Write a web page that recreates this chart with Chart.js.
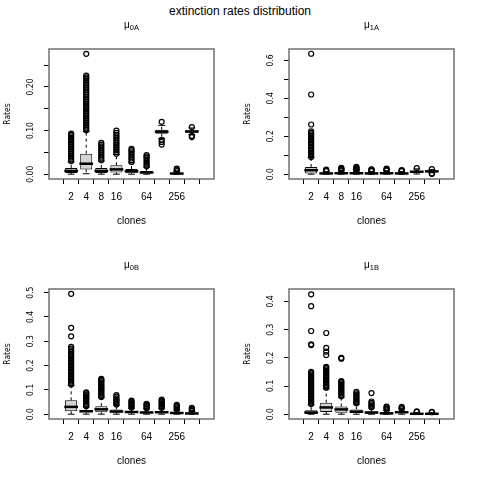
<!DOCTYPE html>
<html>
<head>
<meta charset="utf-8">
<script src="https://cdn.jsdelivr.net/npm/chart.js@4.4.1/dist/chart.umd.min.js"></script>
<style>
  body { margin: 0; background: #fff; }
  #page { position: relative; width: 480px; height: 480px; font-family: "Liberation Sans", Arial, sans-serif; }
  canvas { position: absolute; }
  .main { position: absolute; left: 0; top: 4px; width: 480px; text-align: center; font-size: 12px; line-height: 14px; }
  .ptitle { position: absolute; width: 165px; text-align: center; font-size: 10px; line-height: 12px; }
  .ptitle span { font-size: 7.5px; position: relative; top: 2px; }
</style>
</head>
<body>
<div id="page">
  <div class="main">extinction rates distribution</div>
  <canvas id="c0A" width="240" height="240" style="left:0;top:0"></canvas>
  <canvas id="c1A" width="240" height="240" style="left:240px;top:0"></canvas>
  <canvas id="c0B" width="240" height="240" style="left:0;top:240px"></canvas>
  <canvas id="c1B" width="240" height="240" style="left:240px;top:240px"></canvas>
  <div class="ptitle" style="left:49px;top:19px">μ<span>0A</span></div>
  <div class="ptitle" style="left:289px;top:19px">μ<span>1A</span></div>
  <div class="ptitle" style="left:49px;top:259px">μ<span>0B</span></div>
  <div class="ptitle" style="left:289px;top:259px">μ<span>1B</span></div>
</div>
<script>
// categories
const clones = ['2', '4', '8', '16', '32', '64', '128', '256', '512']
// R leaves out the labels that would overlap
const shownClones = ['2', '4', '8', '16', '64', '256']

// mu 0A
const mu0A_lo  = [0, 0.001, 0, 0, 0, 0, 0.082, 0, 0.091]
const mu0A_q1  = [0.003, 0.011, 0.003, 0.004, 0.002, 0.0015, 0.093, 0.0005, 0.095]
const mu0A_med = [0.0075, 0.024, 0.0075, 0.011, 0.0068, 0.004, 0.0975, 0.0015, 0.098]
const mu0A_q3  = [0.0144, 0.047, 0.0144, 0.0205, 0.012, 0.0075, 0.102, 0.003, 0.100]
const mu0A_hi  = [0.028, 0.098, 0.030, 0.045, 0.026, 0.016, 0.112, 0.0065, 0.106]
const mu0A_out = [
  [0.030,0.034,0.038,0.042,0.046,0.050,0.054,0.058,0.062,0.066,0.070,0.074,0.078,0.081,0.084,0.087,0.090,0.093],
  [0.101,0.105,0.109,0.113,0.117,0.121,0.125,0.129,0.133,0.137,0.141,0.145,0.149,0.153,0.157,0.161,0.165,0.169,0.173,0.177,0.181,0.185,0.189,0.193,0.197,0.201,0.205,0.209,0.214,0.219,0.222,0.226,0.276],
  [0.032,0.036,0.040,0.044,0.048,0.052,0.056,0.060,0.064,0.068,0.072],
  [0.047,0.051,0.055,0.059,0.063,0.067,0.071,0.075,0.079,0.083,0.087,0.091,0.095,0.100],
  [0.028,0.032,0.036,0.040,0.044,0.048,0.052,0.055,0.058],
  [0.018,0.022,0.026,0.030,0.034,0.038,0.041,0.044],
  [0.120,0.079,0.074,0.068],
  [0.007,0.010,0.013],
  [0.108,0.088,0.085]
]
const mu0A_yTicks  = [0, 0.05, 0.10, 0.15, 0.20, 0.25]
const mu0A_yLabels = ['0.00', '', '0.10', '', '0.20', '']

// mu 1A
const mu1A_lo  = [0, 0, 0, 0, 0, 0, 0, 0.001, 0.007]
const mu1A_q1  = [0.004, 0.002, 0.002, 0.002, 0.002, 0.002, 0.002, 0.009, 0.010]
const mu1A_med = [0.021, 0.004, 0.005, 0.005, 0.004, 0.005, 0.004, 0.013, 0.015]
const mu1A_q3  = [0.038, 0.007, 0.008, 0.008, 0.007, 0.008, 0.007, 0.017, 0.019]
const mu1A_hi  = [0.088, 0.014, 0.017, 0.017, 0.014, 0.017, 0.014, 0.028, 0.024]
const mu1A_out = [
  [0.090,0.098,0.106,0.114,0.122,0.130,0.138,0.146,0.154,0.162,0.170,0.178,0.186,0.194,0.202,0.210,0.218,0.226,0.262,0.420,0.635],
  [0.016,0.020,0.024],
  [0.019,0.023,0.027,0.031,0.034],
  [0.019,0.023,0.027,0.031,0.035,0.039],
  [0.016,0.020,0.024,0.026],
  [0.019,0.023,0.027,0.029],
  [0.016,0.019,0.021],
  [0.032],
  [0.027,0.004,0.002]
]
const mu1A_yTicks  = [0, 0.1, 0.2, 0.3, 0.4, 0.5, 0.6]
const mu1A_yLabels = ['0.0', '', '0.2', '', '0.4', '', '0.6']

// mu 0B
const mu0B_lo  = [0, 0, 0, 0, 0, 0, 0, 0, 0]
const mu0B_q1  = [0.012, 0.008, 0.008, 0.007, 0.006, 0.004, 0.005, 0.003, 0.001]
const mu0B_med = [0.030, 0.012, 0.020, 0.011, 0.009, 0.007, 0.008, 0.005, 0.003]
const mu0B_q3  = [0.057, 0.0175, 0.033, 0.019, 0.013, 0.011, 0.012, 0.008, 0.005]
const mu0B_hi  = [0.118, 0.030, 0.068, 0.037, 0.024, 0.021, 0.023, 0.016, 0.011]
const mu0B_out = [
  [0.122,0.128,0.134,0.140,0.146,0.152,0.158,0.164,0.170,0.176,0.182,0.188,0.194,0.200,0.206,0.212,0.218,0.224,0.230,0.236,0.242,0.248,0.256,0.262,0.270,0.277,0.320,0.355,0.495],
  [0.033,0.038,0.043,0.048,0.053,0.058,0.063,0.068,0.073,0.078,0.082,0.086,0.090],
  [0.071,0.076,0.081,0.086,0.091,0.096,0.101,0.106,0.111,0.116,0.121,0.126,0.131,0.136,0.141,0.145],
  [0.040,0.045,0.050,0.055,0.060,0.065,0.072,0.078],
  [0.027,0.032,0.037,0.042,0.047,0.052,0.056],
  [0.024,0.029,0.034,0.039,0.043],
  [0.026,0.031,0.036,0.041,0.046,0.051,0.056,0.060],
  [0.019,0.024,0.029,0.034,0.038],
  [0.014,0.018,0.022,0.026]
]
const mu0B_yTicks  = [0, 0.1, 0.2, 0.3, 0.4, 0.5]
const mu0B_yLabels = ['0.0', '0.1', '0.2', '0.3', '0.4', '0.5']

// mu 1B
const mu1B_lo  = [0, 0, 0, 0, 0, 0, 0, 0, 0]
const mu1B_q1  = [0.001, 0.008, 0.005, 0.004, 0.002, 0.001, 0.004, 0.0005, 0.0005]
const mu1B_med = [0.006, 0.024, 0.017, 0.009, 0.006, 0.003, 0.007, 0.0015, 0.0015]
const mu1B_q3  = [0.014, 0.041, 0.027, 0.017, 0.010, 0.006, 0.011, 0.003, 0.003]
const mu1B_hi  = [0.033, 0.090, 0.060, 0.036, 0.022, 0.013, 0.021, 0.006, 0.006]
const mu1B_out = [
  [0.036,0.041,0.046,0.051,0.056,0.061,0.066,0.071,0.076,0.081,0.086,0.091,0.096,0.101,0.106,0.111,0.116,0.121,0.126,0.131,0.136,0.141,0.146,0.150,0.245,0.248,0.295,0.383,0.425],
  [0.094,0.099,0.104,0.109,0.114,0.119,0.124,0.129,0.134,0.139,0.144,0.149,0.154,0.159,0.164,0.168,0.210,0.222,0.235,0.288],
  [0.064,0.069,0.074,0.079,0.084,0.089,0.094,0.099,0.104,0.109,0.114,0.117,0.197,0.200],
  [0.039,0.044,0.049,0.054,0.059,0.064,0.069,0.074,0.079],
  [0.025,0.030,0.035,0.040,0.045,0.075],
  [0.016,0.020,0.024,0.027],
  [0.018,0.022,0.026],
  [0.008,0.010],
  [0.007,0.008]
]
const mu1B_yTicks  = [0, 0.1, 0.2, 0.3, 0.4]
const mu1B_yLabels = ['0.0', '0.1', '0.2', '0.3', '0.4']

const sansFamily = '"Liberation Sans", Arial, sans-serif'
const narrowFamily = '"Liberation Sans Narrow", "DejaVu Sans Condensed", "Liberation Sans", Arial, sans-serif'
Chart.defaults.color = '#000'
Chart.defaults.font.family = sansFamily

// draws the box around the plot region, like R's box()
const framePlugin = {
  id: 'frame',
  afterDraw(chart) {
    const {ctx, chartArea: a} = chart
    ctx.save()
    ctx.strokeStyle = '#707070'
    ctx.lineWidth = 1.5
    ctx.strokeRect(a.left, a.top, a.right - a.left, a.bottom - a.top)
    ctx.restore()
  }
}

// rotated y labels are centred at widest/2 from the ticks, so pad to keep the centre fixed
function yLabelPadding(labels) {
  const ctx = document.createElement('canvas').getContext('2d')
  ctx.font = '8.5px ' + narrowFamily
  const widest = Math.max(...labels.map(l => ctx.measureText(l).width))
  return 13 - widest / 2
}

function segments(from, to) {
  const pts = []
  from.forEach((v, i) => {
    pts.push({x: i + 1, y: v}, {x: i + 1, y: to[i]}, {x: i + 1, y: null})
  })
  return pts
}

function make_boxplot(id, lo, q1, med, q3, hi, out, yMin, yMax, yTicks, yLabels) {
  const at = arr => arr.map((v, i) => ({x: i + 1, y: v}))
  const outliers = []
  out.forEach((list, i) => list.forEach(v => outliers.push({x: i + 1, y: v})))

  return new Chart(document.getElementById(id).getContext('2d'), {
    data: {
      datasets: [
        {
          type: 'line', order: 5, data: segments(q3, hi).concat(segments(q1, lo)),
          borderColor: '#000', borderWidth: 1, borderDash: [3, 3], pointRadius: 0, spanGaps: false
        },
        {
          type: 'bar', order: 4, data: q1.map((v, i) => ({x: i + 1, y: [v, q3[i]]})),
          backgroundColor: '#d3d3d3', borderColor: '#000', borderWidth: 1, borderSkipped: false,
          barPercentage: 0.8, categoryPercentage: 1
        },
        {
          type: 'line', order: 3, data: at(med), showLine: false,
          pointStyle: 'line', pointRadius: 6.85, borderWidth: 2.5, borderColor: '#000'
        },
        {
          type: 'line', order: 2, data: at(lo).concat(at(hi)), showLine: false,
          pointStyle: 'line', pointRadius: 3.4, borderWidth: 1, borderColor: '#000'
        },
        {
          type: 'line', order: 1, data: outliers, showLine: false,
          pointStyle: 'circle', pointRadius: 2.5, borderWidth: 1.2,
          borderColor: '#000', backgroundColor: 'rgba(0,0,0,0)'
        }
      ]
    },
    options: {
      responsive: false,
      animation: false,
      events: [],
      layout: { padding: { left: 0, right: 26, top: 49, bottom: 0 } },
      plugins: { legend: { display: false }, tooltip: { enabled: false } },
      scales: {
        x: {
          type: 'linear', min: 0.14, max: 9.86, bounds: 'data',
          afterBuildTicks: s => { s.ticks = clones.map((c, i) => ({value: i + 1})) },
          afterFit: s => { s.height = 61 },
          ticks: {
            autoSkip: false, maxRotation: 0, padding: 7.5, font: { size: 10 },
            callback: v => shownClones.includes(clones[v - 1]) ? clones[v - 1] : ''
          },
          grid: { drawOnChartArea: false, tickLength: 5, color: '#000' },
          border: { display: false },
          title: { display: true, text: 'clones', font: { size: 10 }, padding: { top: 0, bottom: 13 } }
        },
        y: {
          type: 'linear', min: yMin, max: yMax, bounds: 'data',
          afterBuildTicks: s => { s.ticks = yTicks.map(v => ({value: v})) },
          afterFit: s => { s.width = 49 },
          ticks: {
            autoSkip: false, minRotation: 90, maxRotation: 90, crossAlign: 'center',
            padding: yLabelPadding(yLabels), font: { size: 8.5, family: narrowFamily },
            callback: (v, i) => yLabels[i]
          },
          grid: { drawOnChartArea: false, tickLength: 5, color: '#000' },
          border: { display: false },
          title: { display: true, text: 'Rates', font: { size: 8.5, family: narrowFamily }, padding: { top: 2.5, bottom: 0 } }
        }
      }
    },
    plugins: [framePlugin]
  })
}

make_boxplot('c0A', mu0A_lo, mu0A_q1, mu0A_med, mu0A_q3, mu0A_hi, mu0A_out, -0.011, 0.287, mu0A_yTicks, mu0A_yLabels)
make_boxplot('c1A', mu1A_lo, mu1A_q1, mu1A_med, mu1A_q3, mu1A_hi, mu1A_out, -0.0254, 0.660, mu1A_yTicks, mu1A_yLabels)
make_boxplot('c0B', mu0B_lo, mu0B_q1, mu0B_med, mu0B_q3, mu0B_hi, mu0B_out, -0.0198, 0.5148, mu0B_yTicks, mu0B_yLabels)
make_boxplot('c1B', mu1B_lo, mu1B_q1, mu1B_med, mu1B_q3, mu1B_hi, mu1B_out, -0.017, 0.444, mu1B_yTicks, mu1B_yLabels)
</script>
</body>
</html>
